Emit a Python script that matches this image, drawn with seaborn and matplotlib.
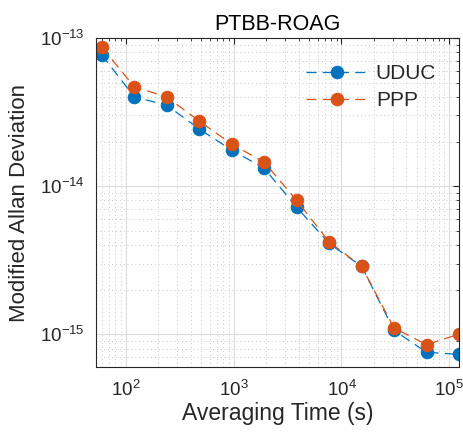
import numpy as np
import pandas as pd
import seaborn as sns
import matplotlib.pyplot as plt
from matplotlib.ticker import LogLocator, NullFormatter

# === Data ===
tau = [60, 120, 240, 480, 960, 1920, 3840, 7680, 15360, 30720, 61440, 122880]
uduc = [7.7e-14, 4.0e-14, 3.52e-14, 2.43e-14, 1.75e-14, 1.32e-14, 7.2e-15,
        4.1e-15, 2.87e-15, 1.06e-15, 7.55e-16, 7.3e-16]
ppp = [8.7e-14, 4.68e-14, 4.0e-14, 2.75e-14, 1.92e-14, 1.45e-14, 8.0e-15,
       4.2e-15, 2.87e-15, 1.1e-15, 8.5e-16, 1.0e-15]
series_names = ["UDUC", "PPP"]
colors = ["#0072BD", "#D95319"]

df = pd.DataFrame({
    "tau": tau * 2,
    "adev": uduc + ppp,
    "series": [series_names[0]] * len(tau) + [series_names[1]] * len(tau),
})

sns.set_style("white")
plt.rcParams["font.family"] = ["Liberation Sans", "DejaVu Sans"]

fig = plt.figure(figsize=(4.63, 4.33), dpi=100)
ax = fig.add_axes([0.2073, 0.1524, 0.7841, 0.7598])

for name, col in zip(series_names, colors):
    sub = df[df["series"] == name]
    sns.lineplot(data=sub, x="tau", y="adev", ax=ax, color=col, label=name,
                 marker="o", markersize=9, markeredgecolor=col,
                 linestyle=(0, (8, 5)), linewidth=0.9)

ax.set_xscale("log")
ax.set_yscale("log")
ax.set_xlim(53, 122880)
ax.set_ylim(6e-16, 1e-13)

ax.xaxis.set_minor_locator(LogLocator(base=10, subs=np.arange(2, 10)))
ax.yaxis.set_minor_locator(LogLocator(base=10, subs=np.arange(2, 10)))
ax.xaxis.set_minor_formatter(NullFormatter())
ax.yaxis.set_minor_formatter(NullFormatter())

ax.grid(True, which="major", color="#dcdcdc", linewidth=0.8)
ax.grid(True, which="minor", color="#c8c8c8", linestyle=(0, (1, 3)), linewidth=0.7)
ax.set_axisbelow(True)

ax.tick_params(which="both", direction="in", top=True, right=True,
               labelsize=13.5, colors="#262626")
ax.tick_params(which="major", length=4)
ax.tick_params(which="minor", length=2)
ax.tick_params(axis="y", which="major", pad=8)
ax.tick_params(axis="x", which="major", pad=9)
for s in ax.spines.values():
    s.set_color("#262626")
    s.set_linewidth(0.8)

ax.set_xlabel("Averaging Time (s)", fontsize=16.5, color="#262626", labelpad=2)
ax.set_ylabel("Modified Allan Deviation", fontsize=16, color="#262626", labelpad=7)
ax.set_title("PTBB-ROAG", fontsize=15.5, color="black", pad=6)

leg = ax.legend(loc="upper right", bbox_to_anchor=(0.96, 0.946), frameon=False,
                fontsize=15, handlelength=3.0, handletextpad=0.35,
                borderaxespad=0, labelspacing=0.4)

fig.savefig("out.png", dpi=100)
